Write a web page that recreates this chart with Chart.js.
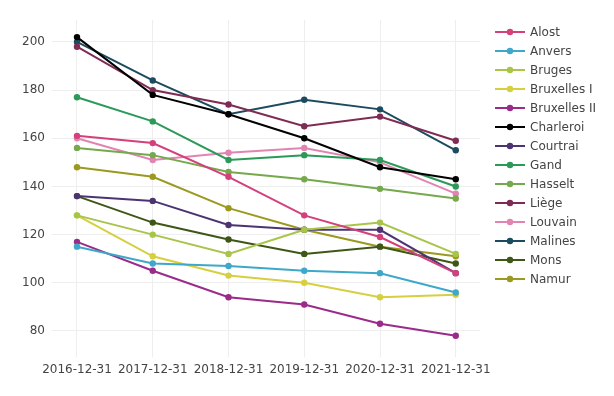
<!DOCTYPE html>
<html>
<head>
<meta charset="utf-8">
<script src="https://cdn.jsdelivr.net/npm/chart.js@4"></script>
<style>
html,body{margin:0;padding:0;background:#fff;}
#wrap{width:614px;height:396px;position:relative;}
</style>
</head>
<body>
<div id="wrap"><canvas id="c" width="614" height="396"></canvas></div>
<script>
const dates = ["2016-12-31","2017-12-31","2018-12-31","2019-12-31","2020-12-31","2021-12-31"];
const yTicks = [80,100,120,140,160,180,200];

const cities = ["Alost","Anvers","Bruges","Bruxelles I","Bruxelles II","Charleroi","Courtrai","Gand","Hasselt","Liège","Louvain","Malines","Mons","Namur"];

const alost      = [161,158,144,128,119,104];
const anvers     = [115,108,107,105,104,96];
const bruges     = [128,120,112,122,125,112];
const bruxelles1 = [128,111,103,100,94,95];
const bruxelles2 = [117,105,94,91,83,78];
const charleroi  = [202,178,170,160,148,143];
const courtrai   = [136,134,124,122,122,104];
const gand       = [177,167,151,153,151,140];
const hasselt    = [156,153,146,143,139,135];
const liege      = [198,180,174,165,169,159];
const louvain    = [160,151,154,156,150,137];
const malines    = [200,184,170,176,172,155];
const mons       = [136,125,118,112,115,108];
const namur      = [148,144,131,122,115,111];

const seriesValues = [alost,anvers,bruges,bruxelles1,bruxelles2,charleroi,courtrai,gand,hasselt,liege,louvain,malines,mons,namur];
const colors = ["#d4407b","#3ea8c9","#a8c54a","#d6cf3f","#9a2b8b","#000000","#4b3471","#2b9a59","#75a94c","#7f2b53","#e184b1","#1c4b5f","#3e5616","#9b991f"];

const datasets = cities.map((name,i)=>({
  label: name,
  data: seriesValues[i].map((v,j)=>({x:j,y:v})),
  borderColor: colors[i],
  backgroundColor: colors[i],
  borderWidth: 2,
  pointRadius: 3.2,
  pointHoverRadius: 3.2,
  pointBorderWidth: 0,
  tension: 0,
  fill: false
}));

const FONT = "'DejaVu Sans', Verdana, sans-serif";
const TXT = "#444";

const legendPlugin = {
  id: 'customLegend',
  afterDraw(chart){
    const ctx = chart.ctx;
    ctx.save();
    const x0 = 495, x1 = 525, tx = 530, y0 = 32, dy = 19;
    chart.data.datasets.forEach((ds,i)=>{
      const y = y0 + i*dy;
      ctx.strokeStyle = ds.borderColor;
      ctx.lineWidth = 2;
      ctx.beginPath(); ctx.moveTo(x0,y); ctx.lineTo(x1,y); ctx.stroke();
      ctx.fillStyle = ds.borderColor;
      ctx.beginPath(); ctx.arc((x0+x1)/2,y,3.2,0,Math.PI*2); ctx.fill();
      ctx.fillStyle = TXT;
      ctx.font = "12px " + FONT;
      ctx.textBaseline = 'middle';
      ctx.textAlign = 'left';
      ctx.fillText(ds.label, tx, y + 0.5);
    });
    ctx.restore();
  }
};

new Chart(document.getElementById('c'), {
  type: 'line',
  data: { datasets },
  options: {
    responsive: false,
    animation: false,
    events: [],
    layout: { padding: { top: 20, right: 134, left: 0, bottom: 0 } },
    plugins: { legend: { display: false }, tooltip: { enabled: false } },
    scales: {
      x: {
        type: 'linear',
        min: -0.33,
        max: 5.32,
        afterBuildTicks(scale){ scale.ticks = dates.map((d,i)=>({value:i})); },
        afterFit(scale){ scale.height = 39; },
        border: { display: false },
        grid: { color: '#eeeeee', lineWidth: 1, drawTicks: false },
        ticks: {
          autoSkip: false, maxRotation: 0, minRotation: 0, padding: 6,
          color: TXT, font: { family: FONT, size: 12 },
          callback: (v)=> dates[v]
        }
      },
      y: {
        type: 'linear',
        min: 69.2,
        max: 209.1,
        afterBuildTicks(scale){ scale.ticks = yTicks.map(v=>({value:v})); },
        afterFit(scale){ scale.width = 52; },
        border: { display: false },
        grid: { color: '#eeeeee', lineWidth: 1, drawTicks: false },
        ticks: {
          padding: 7, color: TXT, font: { family: FONT, size: 12 },
          callback: (v)=> String(v)
        }
      }
    }
  },
  plugins: [legendPlugin]
});
</script>
</body>
</html>
